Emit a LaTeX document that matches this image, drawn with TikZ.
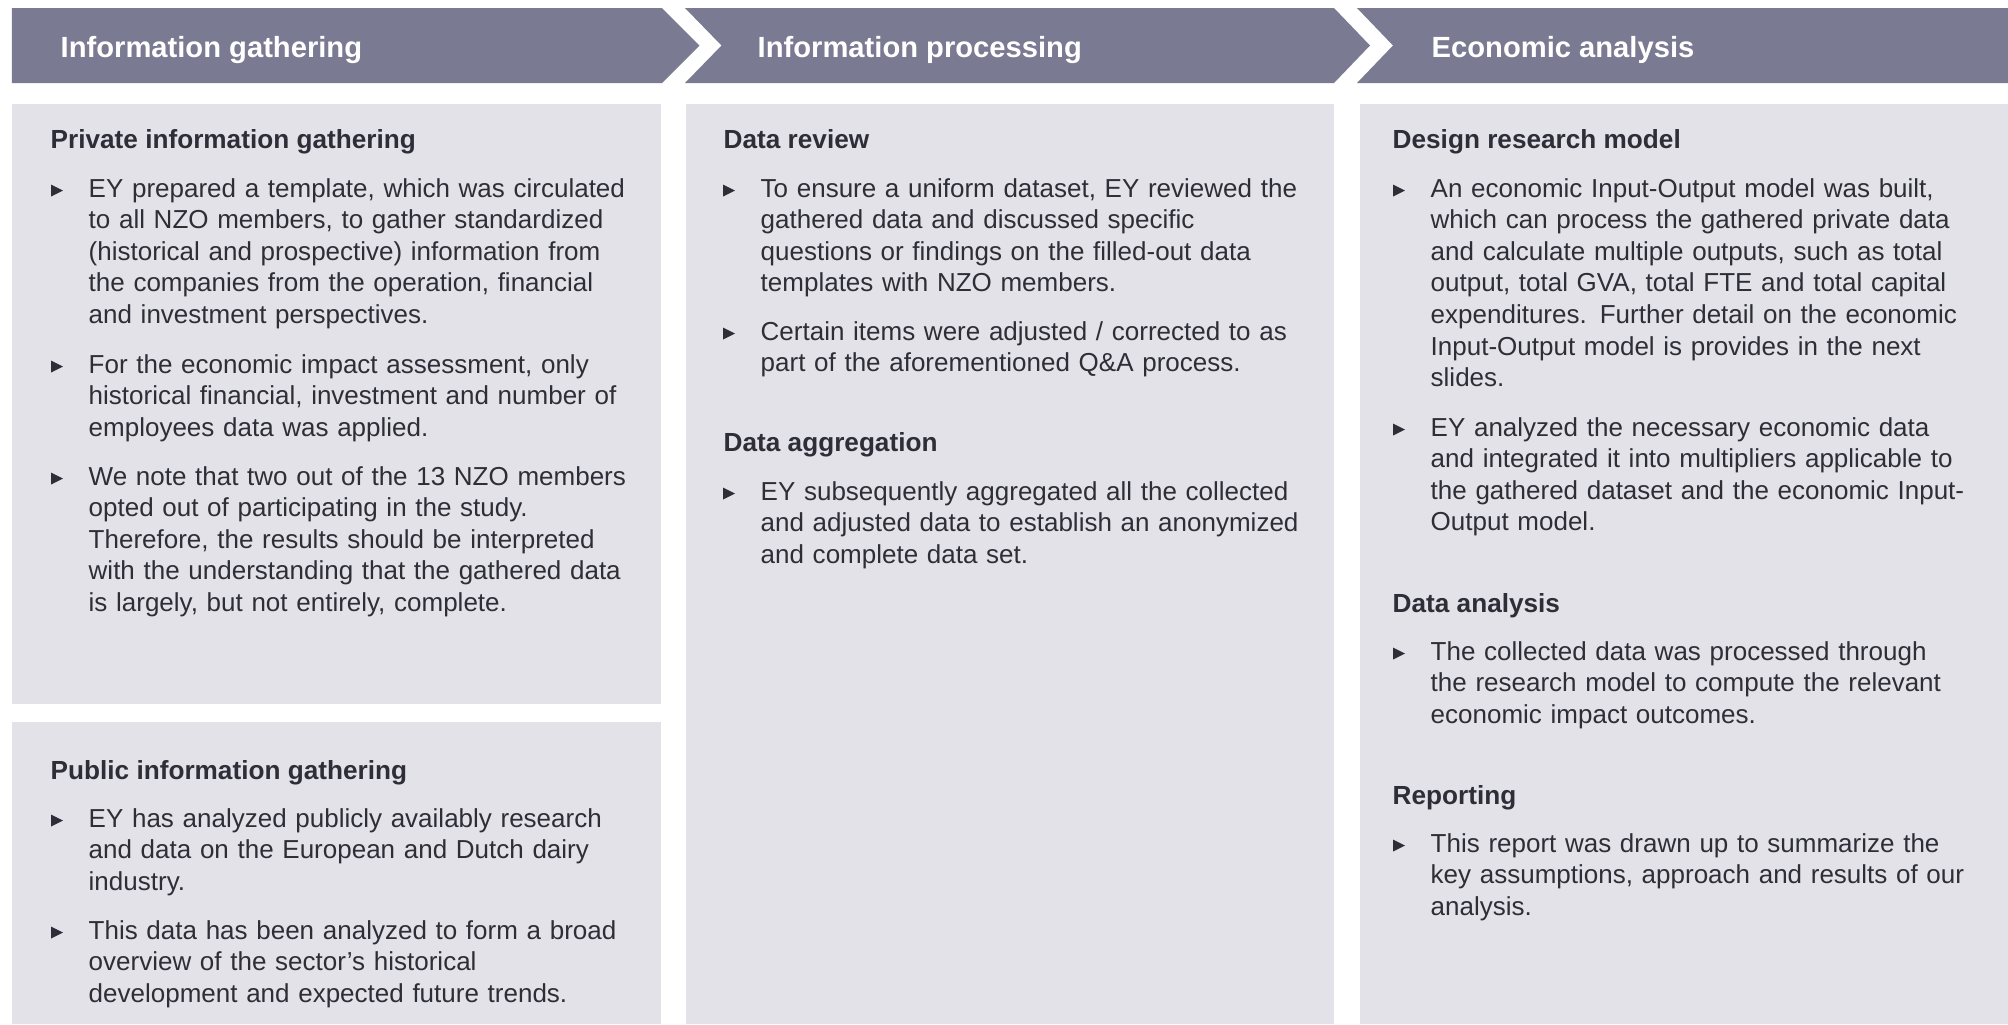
\documentclass[tikz,border=0pt]{standalone}
\usepackage{fontspec}
\setmainfont{Liberation Sans}
\usepackage{xcolor}
\usetikzlibrary{positioning}

\definecolor{hdrgray}{RGB}{122,122,146}
\definecolor{panelgray}{RGB}{227,226,232}
\definecolor{txtgray}{RGB}{46,46,56}

\tikzset{
	tri/.pic={\fill[txtgray] (-0.37,0.005) -- (-0.37,0.125) -- (-0.25,0.065) -- cycle;}
}

\begin{document}
\begin{tikzpicture}[
				hdr/.style={anchor=base west, inner sep=0pt, text=white, font=\fontsize{8.3}{9.9}\selectfont\bfseries},
				head/.style={anchor=base west, inner sep=0pt, text=txtgray, font=\fontsize{7.45}{9}\selectfont\bfseries},
				item/.style={anchor=base west, inner sep=0pt, text=txtgray, text width=5.9cm, align=left, font=\fontsize{7.4}{9}\selectfont},
				panel/.style={fill=panelgray}
				]
				\useasboundingbox[fill=white] (0,0) rectangle (20.08,-10.24);
				
				% Chevron header
				\fill[hdrgray] (0.12,-0.08) -- (6.62,-0.08) -- (6.995,-0.455) -- (6.62,-0.83) -- (0.12,-0.83) -- cycle;
				\fill[hdrgray] (6.85,-0.08) -- (13.34,-0.08) -- (13.70,-0.455) -- (13.34,-0.83) -- (6.85,-0.83) -- (7.215,-0.455) -- cycle;
				\fill[hdrgray] (13.57,-0.08) -- (20.08,-0.08) -- (20.08,-0.83) -- (13.57,-0.83) -- (13.93,-0.455) -- cycle;
				\node[hdr] (gather) at (0.60,-0.57) {Information gathering};
				\node[hdr] (process) at (7.57,-0.57) {Information processing};
				\node[hdr] (econ) at (14.31,-0.57) {Economic analysis};
				
				% Panels
				\fill[panel] (0.12,-1.04) rectangle (6.61,-7.04);
				\fill[panel] (0.12,-7.22) rectangle (6.61,-10.24);
				\fill[panel] (6.86,-1.04) rectangle (13.34,-10.24);
				\fill[panel] (13.60,-1.04) rectangle (20.08,-10.24);
				
				% Information gathering
				\node[head] (private) at (0.50,-1.48) {Private information gathering};
				\node[item] (pri1) at (0.88,-1.97) {EY prepared a template, which was circulated\\to all NZO members, to gather standardized\\(historical and prospective) information from\\the companies from the operation, financial\\and investment perspectives.};
				\node[item] (pri2) at (0.88,-3.73) {For the economic impact assessment, only\\historical financial, investment and number of\\employees data was applied.};
				\node[item] (pri3) at (0.88,-4.85) {We note that two out of the 13 NZO members\\opted out of participating in the study.\\Therefore, the results should be interpreted\\with the understanding that the gathered data\\is largely, but not entirely, complete.};
				\node[head] (public) at (0.50,-7.79) {Public information gathering};
				\node[item] (pub1) at (0.88,-8.27) {EY has analyzed publicly availably research\\and data on the European and Dutch dairy\\industry.};
				\node[item] (pub2) at (0.88,-9.39) {This data has been analyzed to form a broad\\overview of the sector’s historical\\development and expected future trends.};
				
				% Information processing
				\node[head] (review) at (7.23,-1.48) {Data review};
				\node[item] (rev1) at (7.60,-1.97) {To ensure a uniform dataset, EY reviewed the\\gathered data and discussed specific\\questions or findings on the filled-out data\\templates with NZO members.};
				\node[item] (rev2) at (7.60,-3.40) {Certain items were adjusted / corrected to as\\part of the aforementioned Q\&A process.};
				\node[head] (aggreg) at (7.23,-4.51) {Data aggregation};
				\node[item] (agg1) at (7.60,-5.00) {EY subsequently aggregated all the collected\\and adjusted data to establish an anonymized\\and complete data set.};
				
				% Economic analysis
				\node[head] (design) at (13.92,-1.48) {Design research model};
				\node[item] (des1) at (14.30,-1.97) {An economic Input-Output model was built,\\which can process the gathered private data\\and calculate multiple outputs, such as total\\output, total GVA, total FTE and total capital\\expenditures. Further detail on the economic\\Input-Output model is provides in the next\\slides.};
				\node[item] (des2) at (14.30,-4.36) {EY analyzed the necessary economic data\\and integrated it into multipliers applicable to\\the gathered dataset and the economic Input-\\Output model.};
				\node[head] (analysis) at (13.92,-6.12) {Data analysis};
				\node[item] (ana1) at (14.30,-6.60) {The collected data was processed through\\the research model to compute the relevant\\economic impact outcomes.};
				\node[head] (report) at (13.92,-8.04) {Reporting};
				\node[item] (rep1) at (14.30,-8.52) {This report was drawn up to summarize the\\key assumptions, approach and results of our\\analysis.};
				
				% Bullet markers
				\foreach \b in {pri1,pri2,pri3,pub1,pub2,rev1,rev2,agg1,des1,des2,ana1,rep1}
				\pic at (\b.base west) {tri};
			\end{tikzpicture}
\end{document}
